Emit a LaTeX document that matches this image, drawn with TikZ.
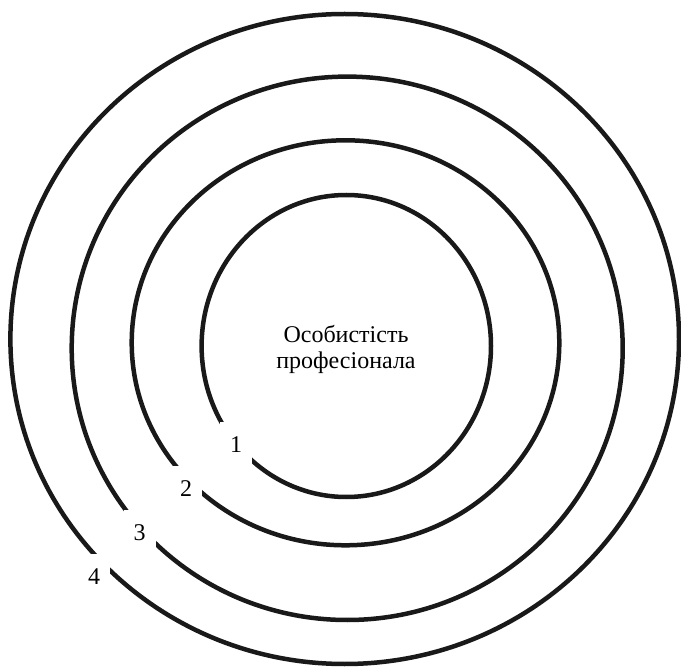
\documentclass[tikz,border=0pt]{standalone}
\usepackage{fontspec}
\setmainfont{Liberation Serif}
\usepackage{tikz}

\begin{document}
\begin{tikzpicture}[x=1pt, y=-1pt,
    ring/.style={line width=4.5pt, draw=black!90},
    level node/.style={fill=white, inner sep=0pt, minimum width=32pt, minimum height=46pt,
        font=\fontsize{24}{26.5}\selectfont},
    core node/.style={align=center, inner sep=0pt, font=\fontsize{24}{26.5}\selectfont}]
    \useasboundingbox (0,0) rectangle (681,671);

    \draw[ring] (346.3,346) ellipse [x radius=144.7pt, y radius=151pt];
    \draw[ring] (345.5,342.8) ellipse [x radius=213.8pt, y radius=202.5pt];
    \draw[ring] (347.2,348.3) ellipse [x radius=275.5pt, y radius=271.7pt];
    \draw[ring] (344.7,339) ellipse [x radius=334.3pt, y radius=325pt];

    \node[core node] (core) at (346,349.5) {Особистість\\професіонала};

    \node[level node] (lvl1) at (236,445) {1};
    \node[level node] (lvl2) at (186,489) {2};
    \node[level node] (lvl3) at (139.5,533) {3};
    \node[level node] (lvl4) at (94,577) {4};
\end{tikzpicture}
\end{document}
